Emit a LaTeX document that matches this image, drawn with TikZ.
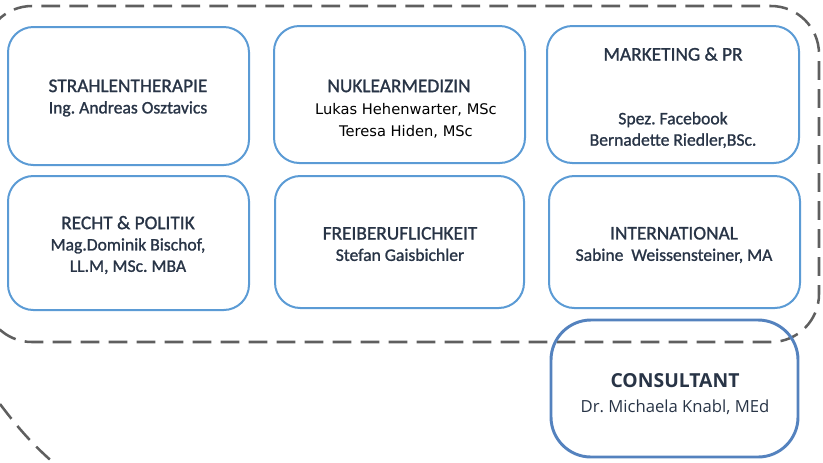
\documentclass[tikz,border=0pt]{standalone}
\usepackage{fontspec}
\setmainfont{Carlito}[FakeBold=1.2]
\newfontfamily\consultfont{Open Sans}
\newfontfamily\tahomafont{DejaVu Sans}
\usetikzlibrary{fit}
\frenchspacing

\definecolor{boxblue}{RGB}{91,155,213}
\definecolor{consultblue}{RGB}{84,130,190}
\definecolor{dashgrey}{RGB}{95,95,95}
\definecolor{navytext}{RGB}{40,52,70}

\newcommand{\teamhead}[1]{{\fontsize{14.5}{16}\selectfont #1}}

\tikzset{every picture/.style={line width=0.75pt}}
\tikzset{
  teambox/.style={draw=boxblue, line width=1.5pt, rounded corners=19pt, inner sep=0pt},
  consultbox/.style={draw=consultblue, line width=2.2pt, rounded corners=30pt, inner sep=0pt},
  grouplinestyle/.style={draw=dashgrey, line width=1.9pt, dash pattern=on 14pt off 7pt},
  teamtext/.style={text=navytext, align=center, inner sep=0pt, font=\fontsize{13.2}{16}\selectfont},
}

\begin{document}
\begin{tikzpicture}[x=0.75pt,y=0.75pt,yscale=-1,xscale=1]
\useasboundingbox (0,0) rectangle (823,462);

%Dashed group frame
\draw [grouplinestyle, rounded corners=36pt] (-16,6) rectangle (819,342);
%Dashed arc bottom left
\draw [grouplinestyle] (0,404) .. controls (18,428) and (34,446) .. (55,464);

%Boxes, first row
\node [teambox, fit={(8,27) (249,165)}] (strahlbox) {};
\node [teambox, fit={(274,26) (525,163)}] (nuklearbox) {};
\node [teambox, fit={(547,26) (799,163)}] (marketingbox) {};
%Boxes, second row
\node [teambox, fit={(8,176) (249,310)}] (rechtbox) {};
\node [teambox, fit={(275,176) (524,308)}] (freiberufbox) {};
\node [teambox, fit={(549,176) (800,308)}] (internatbox) {};
%Consultant
\node [consultbox, fit={(551,320) (798,457)}] (consultbox) {};

% Text Node
\node [teamtext] (strahltext) at (128,98) {\teamhead{STRAHLENTHERAPIE}\\Ing. Andreas Osztavics};
% Text Node
\node [teamtext] (nuklearhead) at (399,86) {\teamhead{NUKLEARMEDIZIN}};
% Text Node
\node [align=center, inner sep=0pt, font=\tahomafont\fontsize{11}{16.5}\selectfont] (nuklearnames) at (406,121) {Lukas Hehenwarter, MSc\\Teresa Hiden, MSc};
% Text Node
\node [teamtext] (marketinghead) at (673,54) {\teamhead{MARKETING \& PR}};
% Text Node
\node [teamtext] (marketingtext) at (673,130) {Spez. Facebook\\Bernadette Riedler,BSc.};
% Text Node
\node [teamtext] (rechttext) at (128,245) {\teamhead{RECHT \& POLITIK}\\Mag.Dominik Bischof,\\LL.M, MSc. MBA};
% Text Node
\node [teamtext] (freiberuftext) at (400,244) {\teamhead{FREIBERUFLICHKEIT}\\Stefan Gaisbichler};
% Text Node
\node [teamtext] (internattext) at (674,245) {\teamhead{INTERNATIONAL}\\Sabine\ \ Weissensteiner, MA};
% Text Node
\node [text=navytext, align=center, inner sep=0pt, font=\consultfont\fontsize{12.5}{19}\selectfont] (consulttext) at (675,394) {{\fontsize{14.5}{19}\selectfont\textbf{CONSULTANT}}\\Dr. Michaela Knabl, MEd};
\end{tikzpicture}
\end{document}
